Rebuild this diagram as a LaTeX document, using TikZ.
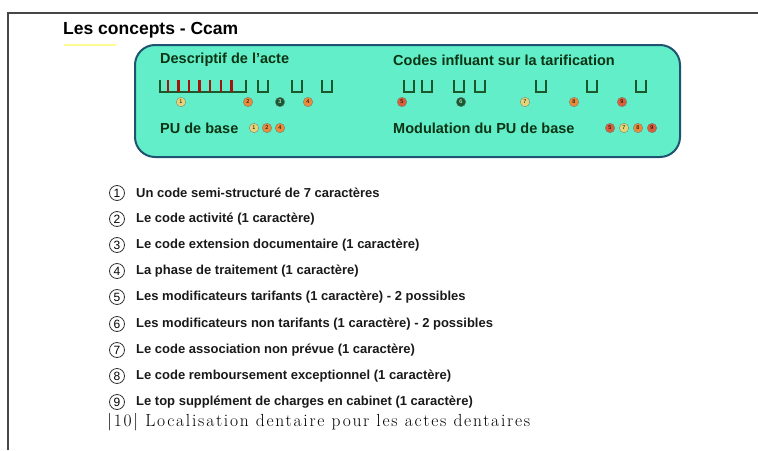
\documentclass[tikz,border=0pt]{standalone}
\usepackage{fontspec}
\setmainfont{Liberation Sans}
\newfontfamily\lmface[LetterSpace=10]{Latin Modern Roman}
\definecolor{panelfill}{RGB}{98,238,200}
\definecolor{paneledge}{RGB}{30,84,112}
\definecolor{lblgreen}{RGB}{12,52,20}
\definecolor{slotgreen}{RGB}{28,88,44}
\definecolor{tickred}{RGB}{160,22,14}
\definecolor{bOrange}{RGB}{232,140,60}
\definecolor{bYellow}{RGB}{228,214,120}
\definecolor{bGreen}{RGB}{22,90,50}
\definecolor{bRed}{RGB}{214,96,60}
\definecolor{framegray}{RGB}{70,70,70}
\tikzset{
  frameline/.style={draw=framegray, line width=1.2pt},
  panel/.style={draw=paneledge, line width=2pt, fill=panelfill, rounded corners=20pt},
  boxlbl/.style={anchor=west, text=lblgreen, font=\bfseries\fontsize{14.5}{17}\selectfont, inner sep=0pt},
  slotline/.style={draw=slotgreen, line width=1.3pt},
  badge/.style={circle, draw=black!55, line width=0.3pt, minimum size=9.5pt, inner sep=0pt,
                font=\fontsize{5.5}{5.5}\selectfont},
  numcirc/.style={circle, draw=black!80, line width=0.8pt, minimum size=15pt, inner sep=0pt,
                  font=\fontsize{12}{12}\selectfont},
  item/.style={anchor=west, inner sep=0pt, text=black!90, font=\bfseries\fontsize{13}{15}\selectfont},
  slot/.pic={\draw[slotline] (-5,-6) -- (-5,6) -- (5,6) -- (5,-6);}
}
\begin{document}
\begin{tikzpicture}[x=1pt,y=-1pt]
\useasboundingbox (0,0) rectangle (758,450);
% outer frame (top and left edges)
\draw[frameline] (8,450) -- (8,13) -- (758,13);
% title with its faint yellow underline
\draw[yellow!70!white, line width=2pt, opacity=0.6] (64,45) -- (116,45);
\node[anchor=west, inner sep=0pt, font=\bfseries\fontsize{17.5}{20}\selectfont] (title) at (63,30) {Les concepts - Ccam};
% turquoise panel
\path[panel] (135,45) rectangle (680,157);
\node[boxlbl] (desc) at (160,60) {Descriptif de l'acte};
\node[boxlbl] (codes) at (393,60) {Codes influant sur la tarification};
% seven-character semi-structured code
\draw[slotline] (160,80) -- (160,92) -- (246,92) -- (246,80);
\foreach \k in {0,...,6} {
  \fill[tickred] ({166.5+10.6*\k},80) rectangle ({169+10.6*\k},91.5);
}
% single-character slots
\foreach \xx in {263,297,327,409,427,459,480,541,592,641} {
  \pic at (\xx,86) {slot};
}
% coloured reference badges
\node[badge, fill=bYellow] (b1) at (181,102) {1};
\node[badge, fill=bOrange] (b2) at (248,102) {2};
\node[badge, fill=bGreen, text=white] (b3) at (280,102) {3};
\node[badge, fill=bOrange] (b4) at (308,102) {4};
\node[badge, fill=bRed] (b5) at (402,102) {5};
\node[badge, fill=bGreen, text=white] (b6) at (461,102) {6};
\node[badge, fill=bYellow] (b7) at (525,102) {7};
\node[badge, fill=bOrange] (b8) at (574,102) {8};
\node[badge, fill=bRed] (b9) at (622,102) {9};
% base price lines
\node[boxlbl] (pu) at (160,128) {PU de base};
\node[badge, fill=bYellow] (p1) at (254,128) {1};
\node[badge, fill=bOrange] (p2) at (267,128) {2};
\node[badge, fill=bOrange] (p4) at (280,128) {4};
\node[boxlbl] (mod) at (393,128) {Modulation du PU de base};
\node[badge, fill=bRed] (m5) at (610,128) {5};
\node[badge, fill=bYellow] (m7) at (624,128) {7};
\node[badge, fill=bOrange] (m8) at (638,128) {8};
\node[badge, fill=bRed] (m9) at (652,128) {9};
% legend
\foreach \i/\yy/\txt in {
  1/193/{Un code semi-structuré de 7 caractères},
  2/219/{Le code activité (1 caractère)},
  3/245/{Le code extension documentaire (1 caractère)},
  4/271/{La phase de traitement (1 caractère)},
  5/297/{Les modificateurs tarifants (1 caractère) - 2 possibles},
  6/324/{Les modificateurs non tarifants (1 caractère) - 2 possibles},
  7/350/{Le code association non prévue (1 caractère)},
  8/376/{Le code remboursement exceptionnel (1 caractère)},
  9/402/{Le top supplément de charges en cabinet (1 caractère)}} {
  \node[numcirc] (n\i) at (117,\yy) {\i};
  \node[item] (t\i) at (136,\yy) {\txt};
}
\node[anchor=west, inner sep=0pt, font=\lmface\fontsize{17.5}{19}\selectfont] (t10) at (107,422)
  {\textbar10\textbar\ Localisation dentaire pour les actes dentaires};
\end{tikzpicture}
\end{document}
